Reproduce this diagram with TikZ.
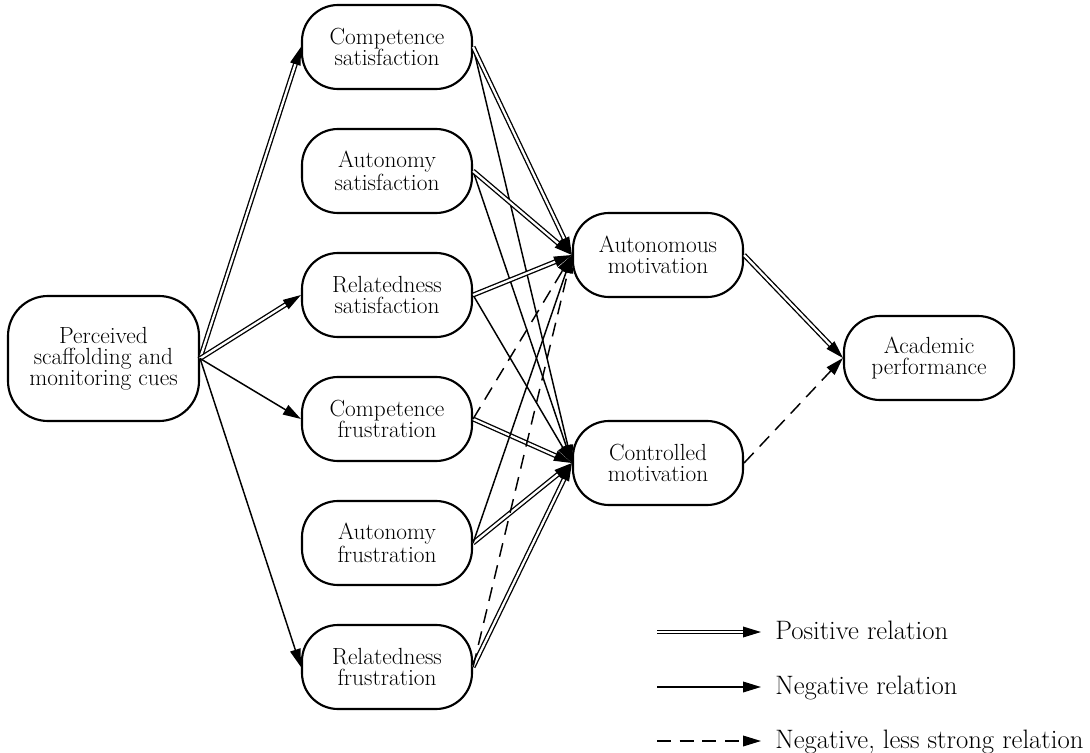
\documentclass[tikz,border=0pt]{standalone}
\usetikzlibrary{arrows.meta}
\newcommand\mynodefont{\fontsize{17.5}{15.8}\selectfont}
\newcommand\mylegfont{\fontsize{20}{22}\selectfont}
\tikzset{
  box/.style={draw, line width=1.6pt, rounded corners=27pt, minimum width=127.5pt,
    minimum height=63pt, inner sep=0pt, align=center, font=\mynodefont},
  bigbox/.style={box, rounded corners=30pt, minimum width=143.25pt, minimum height=93.75pt},
  arrtip/.style={-{Triangle[length=13.5pt,width=8pt]}},
  posrel/.style={arrtip, double, double distance=1.7pt, line width=1pt},
  negrel/.style={arrtip, line width=1.1pt},
  weakrel/.style={negrel, dash pattern=on 10.5pt off 6.5pt},
  legtext/.style={anchor=base west, inner sep=0pt, font=\mylegfont}
}
\begin{document}
\begin{tikzpicture}[x=0.75pt,y=-0.75pt]
\path[use as bounding box] (0,0) rectangle (1090,753);
% nodes
\node[bigbox] (perc) at (103.5,358.5) {Perceived\\scaffolding and\\monitoring cues};
\node[box] (cs) at (387,47)  {Competence\\satisfaction};
\node[box] (as) at (387,171) {Autonomy\\satisfaction};
\node[box] (rs) at (387,295) {Relatedness\\satisfaction};
\node[box] (cf) at (387,419) {Competence\\frustration};
\node[box] (af) at (387,543) {Autonomy\\frustration};
\node[box] (rf) at (387,667) {Relatedness\\frustration};
\node[box] (am) at (658,255) {Autonomous\\motivation};
\node[box] (cm) at (658,463) {Controlled\\motivation};
\node[box] (ap) at (929,358) {Academic\\performance};
% perceived -> needs
\draw[posrel] (perc.east) -- (cs.west);
\draw[posrel] (perc.east) -- (rs.west);
\draw[negrel] (perc.east) -- (cf.west);
\draw[negrel] (perc.east) -- (rf.west);
% needs -> controlled
\draw[negrel] (cs.east) -- (cm.west);
\draw[negrel] (as.east) -- (cm.west);
\draw[negrel] (rs.east) -- (cm.west);
\draw[posrel] (cf.east) -- (cm.west);
\draw[posrel] (af.east) -- (cm.west);
\draw[posrel] (rf.east) -- (cm.west);
% needs -> autonomous
\draw[posrel] (cs.east) -- (am.west);
\draw[posrel] (as.east) -- (am.west);
\draw[posrel] (rs.east) -- (am.west);
\draw[weakrel] (cf.east) -- (am.west);
\draw[negrel] (af.east) -- (am.west);
\draw[weakrel] (rf.east) -- (am.west);
% motivation -> performance
\draw[posrel] (am.east) -- (ap.west);
\draw[weakrel] (cm.east) -- (ap.west);
% legend
\coordinate (l1s) at (657,632); \coordinate (l1e) at (761,632);
\coordinate (l2s) at (657,687); \coordinate (l2e) at (761,687);
\coordinate (l3s) at (657,741); \coordinate (l3e) at (761,741);
\draw[posrel] (l1s) -- (l1e);
\draw[negrel] (l2s) -- (l2e);
\draw[weakrel] (l3s) -- (l3e);
\node[legtext] (t1) at (775,639) {Positive relation};
\node[legtext] (t2) at (775,694) {Negative relation};
\node[legtext] (t3) at (775,748) {Negative, less strong relation};
\end{tikzpicture}
\end{document}
